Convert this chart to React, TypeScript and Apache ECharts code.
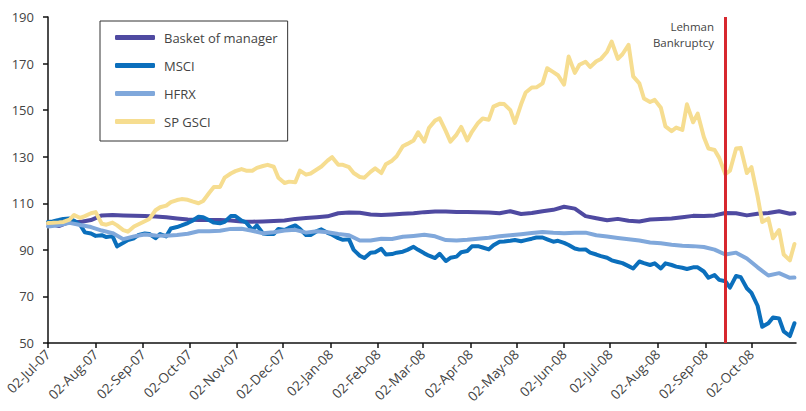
import React, { useEffect, useRef } from "react";
import * as echarts from "echarts";

const FONT = "'Open Sans', 'Noto Sans', sans-serif";
const MONTHS = ["Jan", "Feb", "Mar", "Apr", "May", "Jun", "Jul", "Aug", "Sep", "Oct", "Nov", "Dec"];

// Axis domain: every calendar day from 02-Jul-07 to 31-Oct-08
const START_UTC = Date.UTC(2007, 6, 2);
const DAY_COUNT = 488;
function fmtDate(t: number): string {
  const d = new Date(t);
  const dd = String(d.getUTCDate()).padStart(2, "0");
  const yy = String(d.getUTCFullYear() % 100).padStart(2, "0");
  return `${dd}-${MONTHS[d.getUTCMonth()]}-${yy}`;
}
const dayCategories: string[] = Array.from({ length: DAY_COUNT }, (_, i) => fmtDate(START_UTC + i * 86400000));

// Observation dates: weekly (Mondays + final 30-Oct-08) and twice weekly (Mon & Thu)
const weeklyDates = dayCategories.filter((_, i) => i % 7 === 0 || i === 486);
const semiWeeklyDates = dayCategories.filter((_, i) => i % 7 === 0 || i % 7 === 3);

const yTicks = [50, 70, 90, 110, 130, 150, 170, 190];
const lehmanDate = "15-Sep-08";
const lehmanLabel = ["Lehman", "Bankruptcy"];

const basketValues = [
  101.5, 100.2, 102, 102, 102.8, 104.8, 105, 104.8, 104.7, 104.5,
  104.3, 104, 103.5, 103, 102.8, 102.8, 102.8, 102.6, 102.2, 102.1,
  102.2, 102.4, 102.6, 103.3, 103.7, 104, 104.4, 105.7, 106, 105.9,
  105.2, 105, 105.2, 105.5, 105.7, 106.2, 106.5, 106.5, 106.3, 106.3,
  106.1, 106, 105.7, 106.6, 105.4, 105.8, 106.6, 107.2, 108.5, 107.7,
  104.5, 103.6, 102.7, 103.3, 102.5, 102.2, 103, 103.3, 103.5, 104,
  104.6, 104.5, 104.8, 105.8, 105.7, 104.8, 105.5, 105.8, 106.6, 105.5,
  105.7,
];

const hfrxValues = [
  100, 100.6, 101.6, 100.7, 99.8, 98.3, 97.2, 94.6, 95.8, 96.6,
  96.2, 96.1, 96.4, 96.9, 98, 98, 98.2, 99, 99.1, 98.2,
  97.1, 97.6, 98.3, 98.6, 97.4, 98, 97.6, 96.8, 96.3, 94,
  94, 94.8, 94.7, 95.6, 96, 96.5, 95.8, 94.2, 94, 94.3,
  94.8, 95.2, 95.8, 96.3, 96.7, 97.2, 97.7, 97.3, 97.1, 97.3,
  97.4, 96.3, 95.7, 95.1, 94.6, 94, 93.2, 92.8, 92.2, 91.8,
  91.6, 91.2, 90.1, 88, 88.8, 86.3, 82.5, 79, 80, 78,
  78.1,
];

const msciValues = [
  102, 102.2, 102.8, 103.3, 103.5, 102.5, 100.7, 97.5, 97, 96,
  96.3, 95.5, 95.9, 91.5, 93, 94.2, 95, 96.4, 97, 96.8,
  95, 96.8, 95.8, 99.2, 99.8, 100.5, 101.5, 102.5, 104.2, 104,
  102.7, 101.7, 101.4, 102, 104.5, 104.5, 102.6, 101.8, 98.5, 100.5,
  97, 96.8, 96.8, 99, 98.5, 99.5, 100.5, 99, 96.4, 96.4,
  98, 98.8, 97.3, 96.5, 95, 94.3, 94.5, 90, 87.5, 86.5,
  88.8, 89, 90.5, 88, 88.2, 88.8, 89.2, 90, 91.3, 90,
  88.5, 87.5, 86.5, 88.3, 85.2, 86.6, 87.1, 89, 89.5, 91.5,
  91.6, 91, 90.2, 92, 93.5, 93.6, 93.9, 94.2, 93.7, 94.2,
  94.8, 95.3, 95.3, 94.5, 93.5, 93.9, 93, 92.1, 90.6, 90.1,
  90.2, 88.8, 88, 87.3, 86.6, 85.5, 84.8, 84.3, 83, 82,
  85, 84.3, 83.5, 84.2, 82, 84.2, 83.5, 82.8, 82.3, 81.8,
  82.5, 82.5, 80.7, 78, 79.2, 77.1, 76.5, 73.8, 78.8, 78.3,
  73.5, 71.5, 66, 57, 58.5, 61, 60.5, 55, 53, 58.5,
];

const gsciValues = [
  101.5, 101.6, 101.8, 102, 103, 105, 103.7, 104.5, 105.7, 106.2,
  101.2, 100.8, 101.7, 100.5, 98.5, 97.8, 100, 101, 102.3, 103.3,
  107, 108.3, 109, 110.5, 111.4, 111.8, 111.5, 110.8, 110, 111,
  114.5, 117, 117, 121, 122.8, 123.8, 124.7, 124, 124, 125.2,
  126, 126.5, 125.7, 121, 118.7, 119.3, 119, 124, 122.3, 122.8,
  124.5, 125.8, 128.3, 129.8, 126.5, 126.5, 125.5, 123, 121.3, 121,
  123.5, 125, 123, 126.8, 128.3, 130.2, 134.5, 135.5, 137, 140.5,
  136.5, 142.3, 145.5, 146.5, 141, 136.5, 139.5, 142.8, 137, 140.7,
  144.5, 146.4, 145.9, 151.5, 152.7, 152.6, 150, 144.5, 152.5, 157.6,
  159.7, 159.8, 161.5, 168, 166.3, 165, 161, 173, 166, 169.5,
  170.8, 168.5, 171, 172, 175.1, 179.4, 172, 174, 178, 164.5,
  161.5, 155, 153.5, 154.4, 151, 143, 141, 142.5, 141.5, 152.5,
  144.8, 148.5, 138.5, 133.5, 132.9, 129.5, 122.5, 124, 133.5, 133.8,
  123, 125.5, 113, 102, 103.5, 95, 98.5, 88, 85.5, 92.5,
];

const seriesNames = ["Basket of manager", "MSCI", "HFRX", "SP GSCI"];
const seriesColors = ["#4F4AA1", "#0B6FBC", "#80A8DB", "#F6DD90"];

function pairs(dates: string[], values: number[]) {
  return values.map((v, j) => [dates[j], v]);
}

export default function App() {
  const ref = useRef<HTMLDivElement>(null);

  useEffect(() => {
    if (!ref.current) return;
    const chart = echarts.init(ref.current, undefined, { renderer: "svg" });
    const dataSets = [
      pairs(weeklyDates, basketValues),
      pairs(semiWeeklyDates, msciValues),
      pairs(weeklyDates, hfrxValues),
      pairs(semiWeeklyDates, gsciValues),
    ];
    const isMonthTick = (_i: number, v: string) => typeof v === "string" && v.startsWith("02-");

    const series: any[] = seriesNames.map((name, k) => ({
      name,
      type: "line",
      data: dataSets[k],
      color: seriesColors[k],
      showSymbol: false,
      symbol: "none",
      lineStyle: { color: seriesColors[k], width: 4, cap: "round", join: "round" },
      z: 2 + k,
    }));
    series[3].markLine = {
      silent: true,
      symbol: ["none", "none"],
      label: { show: false },
      lineStyle: { color: "#D7282F", width: 3, type: "solid" },
      data: [{ xAxis: lehmanDate }],
      z: 10,
    };

    chart.setOption({
      animation: false,
      backgroundColor: "#ffffff",
      textStyle: { fontFamily: FONT },
      grid: { left: 48, right: 10, top: 17, bottom: 68, containLabel: false },
      legend: {
        orient: "vertical",
        left: 100,
        top: 21,
        padding: [10, 10, 13, 15],
        itemWidth: 40,
        itemHeight: 5,
        itemGap: 15,
        borderColor: "#333333",
        borderWidth: 1,
        icon: "roundRect",
        data: seriesNames,
        textStyle: { fontSize: 13, color: "#444444", fontFamily: FONT, padding: [0, 0, 0, 4] },
      },
      xAxis: {
        type: "category",
        data: dayCategories,
        boundaryGap: false,
        axisLine: { show: true, lineStyle: { color: "#111111", width: 1.5 } },
        axisTick: { show: true, interval: isMonthTick, length: 5, lineStyle: { color: "#111111", width: 1.5 } },
        axisLabel: {
          interval: isMonthTick,
          rotate: 45,
          margin: 9,
          fontSize: 13.5,
          color: "#444444",
          fontFamily: FONT,
        },
        splitLine: { show: false },
      },
      yAxis: {
        type: "value",
        min: 50,
        max: 190,
        axisLine: { show: true, lineStyle: { color: "#111111", width: 1.5 } },
        axisTick: { show: true, length: 5, customValues: yTicks, lineStyle: { color: "#111111", width: 1.5 } },
        axisLabel: { customValues: yTicks, margin: 14, fontSize: 13, color: "#444444", fontFamily: FONT },
        splitLine: { show: false },
      },
      graphic: lehmanLabel.map((t, k) => ({
        type: "text",
        right: 92,
        top: 20 + k * 16,
        style: {
          text: t,
          fill: "#444444",
          font: `11.5px ${FONT}`,
          align: "right",
        },
      })),
      series,
    });
    return () => chart.dispose();
  }, []);

  return (
    <div
      ref={ref}
      style={{ position: "fixed", left: 0, top: 0, width: 806, height: 411, background: "#fff" }}
    />
  );
}
